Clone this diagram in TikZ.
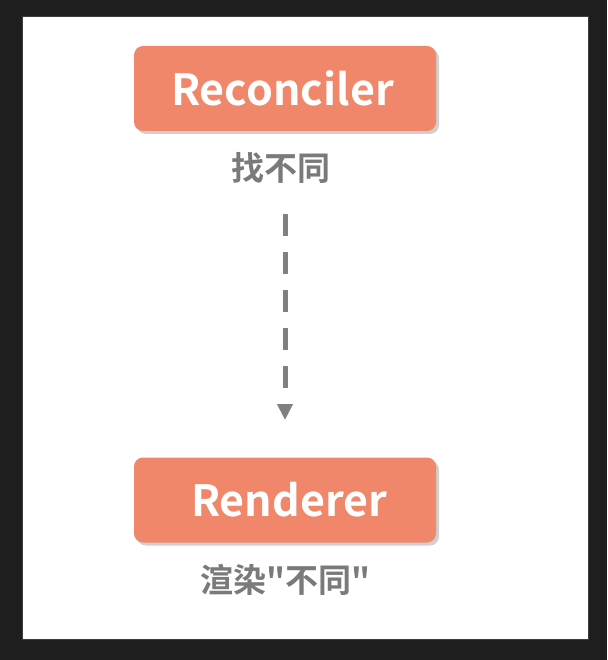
\documentclass[tikz,border=0pt]{standalone}
\usepackage{fontspec}
\setmainfont{Noto Sans CJK SC}[BoldFont={* Bold}]
\newfontfamily\cjkbold{Noto Sans CJK SC Bold}
\usetikzlibrary{arrows.meta,shadows}
\definecolor{frame}{HTML}{1E1E1E}
\definecolor{frameedge}{HTML}{3C3C3C}
\definecolor{boxfill}{HTML}{F0876A}
\definecolor{labelgray}{HTML}{7A7A7A}
\definecolor{arrowgray}{HTML}{808080}
\begin{document}
\begin{tikzpicture}[x=1pt,y=-1pt,
  compbox/.style={rectangle, rounded corners=9pt, fill=boxfill, minimum width=302pt, minimum height=85pt,
    text=white, font=\cjkbold\fontsize{43}{47}\selectfont, inner sep=0pt,
    drop shadow={shadow xshift=3pt, shadow yshift=-3pt, opacity=0.3, fill=black!60}},
  sublabel/.style={text=labelgray, font=\cjkbold\fontsize{33}{37}\selectfont, inner sep=0pt},
  flow/.style={draw=arrowgray, line width=5pt, dash pattern=on 22pt off 16pt,
    -{Triangle[width=15pt,length=16pt]}}]
\useasboundingbox (0,0) rectangle (607,660);
\fill[frame] (0,0) rectangle (607,660);
\fill[white, draw=frameedge, line width=1pt] (22,17) rectangle (588,639);
\node[compbox] (rec) at (285,88.5) {\hspace*{-5pt}Reconciler};
\node[sublabel] (l1) at (281,168) {找不同};
\node[compbox] (ren) at (285,500) {\hspace*{8pt}Renderer};
\node[sublabel] (l2) at (285,580) {渲染"不同"};
\coordinate (s) at (285,214);
\coordinate (e) at (285,420);
\draw[flow] (rec.south |- s) -- (ren.north |- e);
\end{tikzpicture}
\end{document}
